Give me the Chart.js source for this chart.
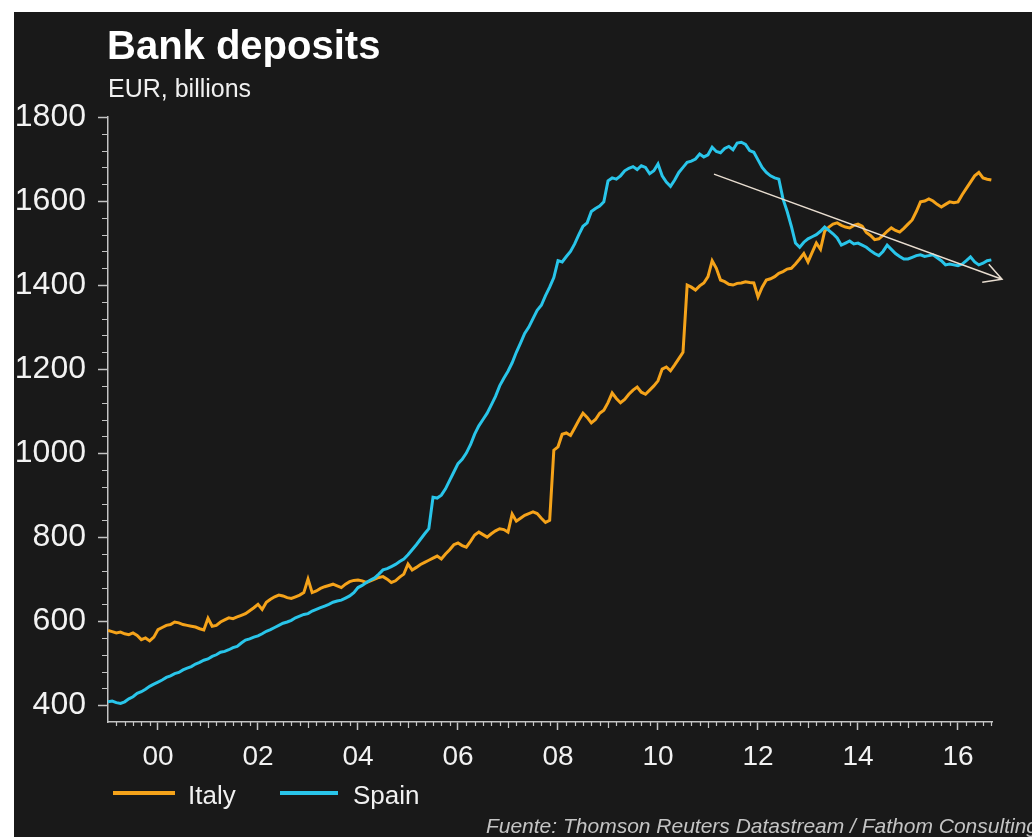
<!DOCTYPE html>
<html>
<head>
<meta charset="utf-8">
<title>Bank deposits</title>
<script src="https://cdn.jsdelivr.net/npm/chart.js@4.4.1/dist/chart.umd.min.js"></script>
<style>
  html, body { margin: 0; padding: 0; background: #fff; }
  body { width: 1032px; height: 837px; position: relative; overflow: hidden; font-family: "Liberation Sans", Arial, sans-serif; }
  #panel { position: absolute; left: 14px; top: 12px; right: 0; bottom: 0; background: #191919; }
  #myChart { position: absolute; left: 0; top: 0; }
  .txt { position: absolute; white-space: nowrap; line-height: 1; }
  #title { left: 107px; top: 25px; font-size: 40px; font-weight: bold; color: #fff; }
  #subtitle { left: 108px; top: 76px; font-size: 25px; color: #f0f0f0; }
  #source { right: -6px; top: 815px; font-size: 21px; font-style: italic; color: #c4c4c4; }
  .leg-line { position: absolute; height: 4px; top: 791px; }
  .leg-text { top: 782px; font-size: 26px; color: #f0f0f0; }
</style>
</head>
<body>
<div id="panel"></div>
<canvas id="myChart" width="1032" height="837"></canvas>
<div class="txt" id="title">Bank deposits</div>
<div class="txt" id="subtitle">EUR, billions</div>
<div class="leg-line" style="left:113px;width:62px;background:#f5a31a"></div>
<div class="txt leg-text" style="left:188px">Italy</div>
<div class="leg-line" style="left:280px;width:58px;background:#29c5ea"></div>
<div class="txt leg-text" style="left:353px">Spain</div>
<div class="txt" id="source">Fuente: Thomson Reuters Datastream / Fathom Consulting</div>
<script>
    // Monthly series, first value = January 1999
    const startYear = 1999;

    const italy = [
        578, 575, 572, 574, 570, 568, 572, 566, 556, 560, 553, 562,          // 1999
        580, 585, 590, 592, 598, 596, 592, 590, 588, 586, 582, 579,          // 2000
        607, 588, 590, 598, 603, 608, 606, 610, 614, 618, 625, 632,          // 2001
        640, 628, 645, 652, 658, 662, 660, 656, 654, 658, 662, 668,          // 2002
        700, 668, 672, 678, 682, 685, 688, 684, 680, 688, 694, 697,          // 2003
        698, 696, 692, 696, 700, 704, 706, 700, 692, 696, 705, 712,          // 2004
        736, 722, 728, 735, 740, 745, 750, 755, 748, 760, 770, 782,          // 2005
        786, 780, 776, 790, 805, 812, 806, 800, 808, 815, 820, 818,          // 2006
        812, 855, 838, 845, 852, 856, 860, 856, 845, 835, 840, 1007,         // 2007
        1015, 1045, 1048, 1042, 1060, 1078, 1095, 1085, 1072, 1080, 1095, 1102, // 2008
        1120, 1143, 1130, 1120, 1128, 1140, 1150, 1157, 1145, 1140, 1150, 1160, // 2009
        1172, 1200, 1205, 1196, 1210, 1225, 1240, 1400, 1395, 1388, 1398, 1405, // 2010
        1420, 1458, 1440, 1412, 1408, 1402, 1400, 1404, 1405, 1408, 1406, 1405, // 2011
        1372, 1395, 1412, 1415, 1420, 1428, 1432, 1438, 1440, 1450, 1462, 1475, // 2012
        1455, 1478, 1500, 1485, 1528, 1538, 1545, 1548, 1542, 1538, 1536, 1542, // 2013
        1545, 1540, 1525, 1518, 1508, 1510, 1518, 1528, 1536, 1530, 1526, 1535, // 2014
        1545, 1555, 1575, 1598, 1600, 1605, 1600, 1592, 1586, 1592, 1598, 1596, // 2015
        1598, 1615, 1630, 1645, 1660, 1668, 1655, 1652, 1650                    // 2016
    ];

    const spain = [
        408, 410, 406, 404, 408, 415, 420, 428, 432, 438, 445, 450,          // 1999
        455, 460, 466, 470, 475, 478, 484, 488, 492, 498, 502, 507,          // 2000
        510, 516, 520, 526, 528, 532, 537, 540, 548, 555, 558, 562,          // 2001
        565, 570, 576, 580, 585, 590, 595, 598, 602, 608, 612, 616,          // 2002
        618, 624, 628, 632, 636, 640, 645, 648, 650, 655, 660, 668,          // 2003
        680, 685, 692, 698, 703, 712, 722, 725, 730, 735, 742, 748,          // 2004
        758, 770, 782, 795, 808, 820, 895, 893, 900, 915, 935, 955,          // 2005
        975, 985, 1000, 1020, 1045, 1065, 1080, 1095, 1115, 1135, 1160, 1178,   // 2006
        1195, 1215, 1240, 1262, 1285, 1300, 1320, 1340, 1352, 1375, 1395, 1418, // 2007
        1458, 1455, 1468, 1480, 1498, 1520, 1540, 1548, 1575, 1582, 1588, 1598, // 2008
        1648, 1655, 1652, 1660, 1672, 1678, 1682, 1675, 1684, 1680, 1665, 1672, // 2009
        1688, 1660, 1645, 1635, 1650, 1668, 1680, 1692, 1695, 1700, 1712, 1705, // 2010
        1710, 1728, 1718, 1715, 1725, 1730, 1722, 1738, 1740, 1735, 1720, 1716, // 2011
        1698, 1680, 1668, 1660, 1655, 1652, 1605, 1575, 1540, 1500, 1490, 1502, // 2012
        1510, 1515, 1520, 1528, 1538, 1530, 1522, 1512, 1495, 1500, 1505, 1498, // 2013
        1500, 1495, 1490, 1482, 1475, 1470, 1480, 1495, 1485, 1475, 1468, 1462, // 2014
        1462, 1466, 1470, 1472, 1468, 1470, 1472, 1465, 1458, 1448, 1450, 1448, // 2015
        1446, 1450, 1458, 1467, 1455, 1448, 1452, 1458, 1460                    // 2016
    ];

    // Axis ticks
    const xTickYears = [2000, 2002, 2004, 2006, 2008, 2010, 2012, 2014, 2016];
    const yTickValues = [400, 600, 800, 1000, 1200, 1400, 1600, 1800];

    // Trend arrow: [year, EUR bn]
    const arrowFrom = [2011.12, 1664];
    const arrowTo = [2016.88, 1414];

    const ITALY_COLOR = '#f5a31a';
    const SPAIN_COLOR = '#29c5ea';
    const AXIS_COLOR = '#c4c4c4';
    const FONT = '"Liberation Sans", Arial, sans-serif';

    const toPoints = (values) => values.map((v, i) => ({ x: startYear + i / 12, y: v }));

    // Small ticks between the labelled ones
    const minorTicks = {
        id: 'minorTicks',
        afterDraw(chart) {
            const { ctx, scales: { x, y } } = chart;
            ctx.save();
            ctx.strokeStyle = AXIS_COLOR;
            ctx.lineWidth = 1.2;
            ctx.beginPath();
            for (let v = 400; v < 1800; v += 40) {
                if (yTickValues.includes(v)) continue;
                const py = Math.round(y.getPixelForValue(v)) + 0.5;
                ctx.moveTo(y.right - 6, py);
                ctx.lineTo(y.right, py);
            }
            for (let k = 1; k < 6 * 18; k++) {
                const v = startYear + k / 6;
                if (v > x.max) break;
                if (xTickYears.some(t => Math.abs(t - v) < 1e-6)) continue;
                const px = Math.round(x.getPixelForValue(v)) + 0.5;
                const len = (k % 6 === 0) ? 6 : 4;
                ctx.moveTo(px, x.top);
                ctx.lineTo(px, x.top + len);
            }
            ctx.stroke();
            ctx.restore();
        }
    };

    // Downward trend arrow over the Spanish series
    const trendArrow = {
        id: 'trendArrow',
        afterDatasetsDraw(chart) {
            const { ctx, scales: { x, y } } = chart;
            const x0 = x.getPixelForValue(arrowFrom[0]), y0 = y.getPixelForValue(arrowFrom[1]);
            const x1 = x.getPixelForValue(arrowTo[0]), y1 = y.getPixelForValue(arrowTo[1]);
            const ang = Math.atan2(y1 - y0, x1 - x0);
            const head = 20, spread = 0.5;
            ctx.save();
            ctx.strokeStyle = '#e8ddd0';
            ctx.lineWidth = 1.5;
            ctx.beginPath();
            ctx.moveTo(x0, y0);
            ctx.lineTo(x1, y1);
            ctx.moveTo(x1 - head * Math.cos(ang - spread), y1 - head * Math.sin(ang - spread));
            ctx.lineTo(x1, y1);
            ctx.lineTo(x1 - head * Math.cos(ang + spread), y1 - head * Math.sin(ang + spread));
            ctx.stroke();
            ctx.restore();
        }
    };

    const ctx = document.getElementById('myChart').getContext('2d');
    const myChart = new Chart(ctx, {
        type: 'line',
        data: {
            datasets: [
                {
                    label: 'Spain',
                    data: toPoints(spain),
                    borderColor: SPAIN_COLOR,
                    borderWidth: 3,
                    pointRadius: 0,
                    order: 1
                },
                {
                    label: 'Italy',
                    data: toPoints(italy),
                    borderColor: ITALY_COLOR,
                    borderWidth: 3,
                    pointRadius: 0,
                    order: 2
                }
            ]
        },
        options: {
            responsive: false,
            animation: false,
            layout: { padding: { left: 0, top: 117, right: 40, bottom: 0 } },
            plugins: {
                legend: { display: false },
                tooltip: { enabled: false }
            },
            scales: {
                x: {
                    type: 'linear',
                    min: 1999,
                    max: 2016.68,
                    afterBuildTicks: (s) => { s.ticks = xTickYears.map(v => ({ value: v })); },
                    afterFit: (s) => { s.height = 115; },
                    grid: { display: true, drawOnChartArea: false, drawTicks: true, tickLength: 8, tickColor: AXIS_COLOR, tickWidth: 1.5 },
                    border: { display: true, color: AXIS_COLOR, width: 1.5 },
                    ticks: {
                        color: '#f2f2f2',
                        font: { size: 28, family: FONT },
                        padding: 10,
                        maxRotation: 0,
                        autoSkip: false,
                        callback: (v) => String(v % 100).padStart(2, '0')
                    }
                },
                y: {
                    min: 360,
                    max: 1800,
                    afterBuildTicks: (s) => { s.ticks = yTickValues.map(v => ({ value: v })); },
                    afterFit: (s) => { s.width = 108; },
                    grid: { display: true, drawOnChartArea: false, drawTicks: true, tickLength: 10, tickColor: AXIS_COLOR, tickWidth: 1.5 },
                    border: { display: true, color: AXIS_COLOR, width: 1.5 },
                    ticks: {
                        color: '#f2f2f2',
                        font: { size: 32, family: FONT },
                        padding: 12,
                        autoSkip: false,
                        callback: (v) => String(v)
                    }
                }
            }
        },
        plugins: [minorTicks, trendArrow]
    });
</script>
</body>
</html>
